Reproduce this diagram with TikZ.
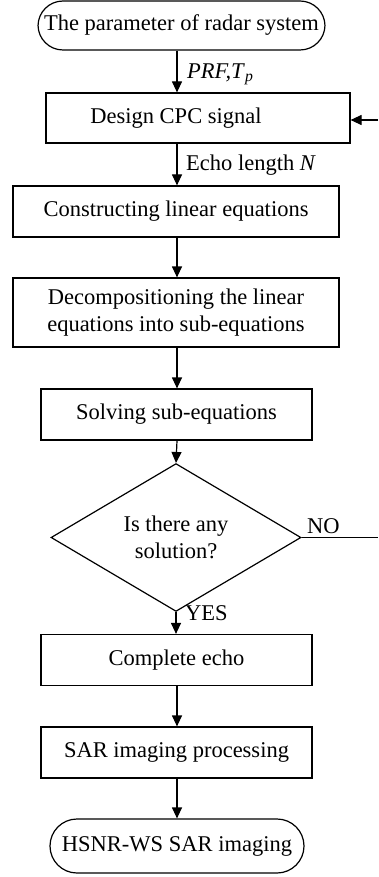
\documentclass[tikz,border=0pt]{standalone}
\usepackage{fontspec}
\setmainfont{Liberation Serif}
\usetikzlibrary{arrows.meta,shapes.geometric}
\begin{document}
\begin{tikzpicture}[x=1pt,y=-1pt,
  every node/.style={font=\fontsize{22.5}{27}\selectfont},
  box/.style={draw,line width=1.2pt,rectangle,inner sep=0pt,align=center},
  term/.style={draw,line width=1.2pt,rectangle,rounded corners=25pt,inner sep=0pt},
  decision/.style={draw,line width=1.2pt,diamond,inner sep=0pt,align=center},
  arr/.style={line width=1.2pt,-{Triangle[length=11pt,width=10pt]}},
  lbl/.style={anchor=west,inner sep=0pt}]
\useasboundingbox (0,0) rectangle (378,877);
\coordinate (col) at (177,0);
\node[term,minimum width=287pt,minimum height=49pt] (t1) at (181.5,25.5) {The parameter of radar system};
\node[box,minimum width=304pt,minimum height=50pt] (design) at (198,118) {};
\node[inner sep=0pt] (designtext) at (176,118) {Design CPC signal};
\node[box,minimum width=326pt,minimum height=51pt] (cons) at (176,211.5) {Constructing linear equations};
\node[box,minimum width=326pt,minimum height=69pt] (decomp) at (176,312.5) {Decompositioning the linear\\equations into sub-equations};
\node[box,minimum width=271pt,minimum height=51pt] (solve) at (176.5,414.5) {Solving sub-equations};
\node[decision,minimum width=250pt,minimum height=109pt] (dia) at (176,537.5) {Is there any\\solution?};
\node[box,minimum width=271pt,minimum height=51pt] (echo) at (176.5,660) {Complete echo};
\node[box,minimum width=271pt,minimum height=51pt] (sar) at (176.5,752.5) {SAR imaging processing};
\node[term,rounded corners=27pt,minimum width=254pt,minimum height=54pt] (t2) at (177,846) {HSNR-WS SAR imaging};
\coordinate (noend) at (378,537.5);
\coordinate (loopin) at (378,120);
\draw[arr] (t1.south -| col) -- (design.north -| col);
\draw[arr] (design.south -| col) -- (cons.north -| col);
\draw[arr] (cons.south -| col) -- (decomp.north -| col);
\draw[arr] (decomp.south -| col) -- (solve.north -| col);
\draw[arr] (solve.south -| col) -- (dia.north);
\draw[arr] (dia.south) -- (echo.north -| dia.south);
\draw[arr] (echo.south -| col) -- (sar.north -| col);
\draw[arr] (sar.south -| col) -- (t2.north -| col);
\draw[line width=1.2pt] (dia.east) -- (noend);
\draw[arr] (loopin) -- (loopin -| design.east);
\node[lbl] (prf) at (187,74) {\textit{PRF,T}\textsubscript{\textit{p}}};
\node[lbl] (echolen) at (186,165) {Echo length \textit{N}};
\node[lbl] (yes) at (185,613) {YES};
\node[lbl] (no) at (307,526) {NO};
\end{tikzpicture}
\end{document}
